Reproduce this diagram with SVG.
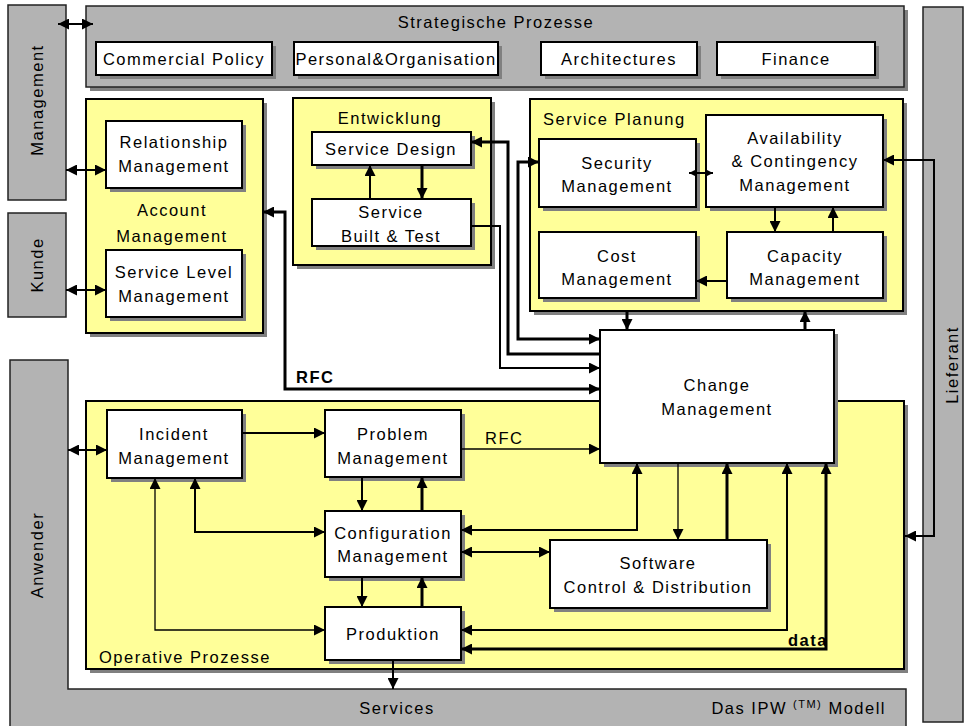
<svg xmlns="http://www.w3.org/2000/svg" width="971" height="726" viewBox="0 0 971 726">
<style>
.g{fill:#b3b3b3;stroke:#222;stroke-width:1.5}
.y{fill:#ffff99;stroke:#000;stroke-width:2}
.w{fill:#fff;stroke:#000;stroke-width:2}
.s{fill:#808080}
text{font-family:"Liberation Sans",Arial,sans-serif;font-size:16.5px;fill:#000;letter-spacing:1.5px}
.c{text-anchor:middle}
.k{fill:none;stroke:#000;stroke-width:3}
.m{fill:none;stroke:#000;stroke-width:2}
.t{fill:none;stroke:#000;stroke-width:1.3}
</style>
<defs>
<marker id="a" viewBox="0 0 10 10" refX="10" refY="5" markerWidth="11" markerHeight="11" markerUnits="userSpaceOnUse" orient="auto-start-reverse"><path d="M0,0 L10,5 L0,10 z" fill="#000"/></marker>
<marker id="b" viewBox="0 0 10 10" refX="10" refY="5" markerWidth="8" markerHeight="8" markerUnits="userSpaceOnUse" orient="auto-start-reverse"><path d="M0,0 L10,5 L0,10 z" fill="#000"/></marker>
</defs>
<rect width="971" height="726" fill="#fff"/>

<g id="management"><rect class="g" x="8" y="5" width="58" height="195"/><text class="c" transform="translate(43,100) rotate(-90)">Management</text></g>
<g id="kunde"><rect class="g" x="8" y="213" width="58" height="104"/><text class="c" transform="translate(43,265) rotate(-90)">Kunde</text></g>
<g id="anwender"><path class="g" d="M10,360 H68 V689 H906 V730 H10 Z"/><text class="c" transform="translate(43,555) rotate(-90)">Anwender</text><text class="c" x="397" y="714">Services</text><text x="886" y="714" text-anchor="end" letter-spacing="0.8">Das IPW <tspan font-size="11" dy="-6">(TM)</tspan><tspan dy="6"> Modell</tspan></text></g>
<g id="lieferant"><rect class="g" x="923" y="7" width="40" height="715"/><text class="c" transform="translate(958,365) rotate(-90)">Lieferant</text></g>

<g id="strategische"><rect class="s" x="90" y="10" width="818" height="81"/><rect class="g" x="86" y="6" width="818" height="81" stroke="#000"/><text class="c" x="496" y="28">Strategische Prozesse</text>
<rect class="s" x="100" y="46" width="176" height="33"/><rect class="w" x="96" y="42" width="176" height="33"/><text class="c" x="184" y="65">Commercial Policy</text>
<rect class="s" x="298" y="46" width="204" height="33"/><rect class="w" x="294" y="42" width="204" height="33"/><text class="c" x="396" y="65" letter-spacing="0.7">Personal&amp;Organisation</text>
<rect class="s" x="545" y="46" width="156" height="33"/><rect class="w" x="541" y="42" width="156" height="33"/><text class="c" x="619" y="65">Architectures</text>
<rect class="s" x="721" y="46" width="158" height="33"/><rect class="w" x="717" y="42" width="158" height="33"/><text class="c" x="796" y="65">Finance</text></g>

<g id="account"><rect class="s" x="90" y="103" width="177" height="234"/><rect class="y" x="86" y="99" width="177" height="234"/><text class="c" x="172" y="216" font-size="18" letter-spacing="1.2">Account</text><text class="c" x="172" y="242" font-size="18" letter-spacing="1.2">Management</text>
<rect class="s" x="110" y="125" width="136" height="67"/><rect class="w" x="106" y="121" width="136" height="67"/><text class="c" x="174" y="148">Relationship</text><text class="c" x="174" y="172">Management</text>
<rect class="s" x="110" y="254" width="136" height="67"/><rect class="w" x="106" y="250" width="136" height="67"/><text class="c" x="174" y="278">Service Level</text><text class="c" x="174" y="302">Management</text></g>

<g id="entwicklung"><rect class="s" x="297" y="102" width="198" height="167"/><rect class="y" x="293" y="98" width="198" height="167"/><text class="c" x="390" y="124">Entwicklung</text>
<rect class="s" x="316" y="136" width="159" height="33"/><rect class="w" x="312" y="132" width="159" height="33"/><text class="c" x="391" y="155">Service Design</text>
<rect class="s" x="316" y="203" width="159" height="47"/><rect class="w" x="312" y="199" width="159" height="47"/><text class="c" x="391" y="218">Service</text><text class="c" x="391" y="242" font-size="18" letter-spacing="1">Built &amp; Test</text></g>

<g id="planung"><rect class="s" x="534" y="103" width="373" height="212"/><rect class="y" x="530" y="99" width="373" height="212"/><text x="543" y="125">Service Planung</text>
<rect class="s" x="543" y="143" width="157" height="68"/><rect class="w" x="539" y="139" width="157" height="68"/><text class="c" x="617" y="169">Security</text><text class="c" x="617" y="192">Management</text>
<rect class="s" x="710" y="119" width="177" height="92"/><rect class="w" x="706" y="115" width="177" height="92"/><text class="c" x="795" y="144">Availability</text><text class="c" x="795" y="167">&amp; Contingency</text><text class="c" x="795" y="191">Management</text>
<rect class="s" x="543" y="236" width="157" height="66"/><rect class="w" x="539" y="232" width="157" height="66"/><text class="c" x="617" y="262">Cost</text><text class="c" x="617" y="285">Management</text>
<rect class="s" x="731" y="236" width="156" height="66"/><rect class="w" x="727" y="232" width="156" height="66"/><text class="c" x="805" y="262">Capacity</text><text class="c" x="805" y="285">Management</text></g>

<g id="operative"><rect class="s" x="90" y="405" width="818" height="268"/><rect class="y" x="86" y="401" width="818" height="268"/><text x="99" y="663">Operative Prozesse</text>
<rect class="s" x="111" y="414" width="135" height="68"/><rect class="w" x="107" y="410" width="135" height="68"/><text class="c" x="174" y="440">Incident</text><text class="c" x="174" y="464">Management</text>
<rect class="s" x="329" y="414" width="136" height="67"/><rect class="w" x="325" y="410" width="136" height="67"/><text class="c" x="393" y="440">Problem</text><text class="c" x="393" y="464">Management</text>
<rect class="s" x="329" y="515" width="136" height="66"/><rect class="w" x="325" y="511" width="136" height="66"/><text class="c" x="393" y="539" letter-spacing="1.1">Configuration</text><text class="c" x="393" y="562">Management</text>
<rect class="s" x="554" y="544" width="217" height="68"/><rect class="w" x="550" y="540" width="217" height="68"/><text class="c" x="658" y="569">Software</text><text class="c" x="658" y="593">Control &amp; Distribution</text>
<rect class="s" x="329" y="611" width="136" height="53"/><rect class="w" x="325" y="607" width="136" height="53"/><text class="c" x="393" y="640">Produktion</text></g>

<g id="change"><rect class="s" x="604" y="334" width="234" height="133"/><rect class="w" x="600" y="330" width="234" height="133"/><text class="c" x="717" y="391">Change</text><text class="c" x="717" y="415">Management</text></g>

<g id="connectors">
<path class="m" d="M58,24 H93" marker-start="url(#a)" marker-end="url(#a)"/>
<path class="m" d="M66,170 H106" marker-start="url(#a)" marker-end="url(#a)"/>
<path class="m" d="M66,290 H106" marker-start="url(#a)" marker-end="url(#a)"/>
<path class="k" d="M600,389 H285 V212 H263" marker-start="url(#a)" marker-end="url(#a)"/>
<path class="k" d="M600,339 H518 V162 H539" marker-start="url(#a)" marker-end="url(#a)"/>
<path class="k" d="M600,354 H508 V142 H471" marker-end="url(#a)"/>
<path class="m" d="M471,226 H500 V368 H600" marker-end="url(#a)"/>
<path class="m" d="M370,199 V165" marker-end="url(#a)"/>
<path class="k" d="M422,165 V199" marker-end="url(#a)"/>
<path class="m" d="M689,173 H713" marker-start="url(#b)" marker-end="url(#b)"/>
<path class="m" d="M775,207 V232" marker-end="url(#a)"/>
<path class="m" d="M833,232 V207" marker-end="url(#a)"/>
<path class="m" d="M727,281 H696" marker-end="url(#a)"/>
<path class="k" d="M627,311 V330" marker-end="url(#a)"/>
<path class="k" d="M805,330 V311" marker-end="url(#a)"/>
<path class="m" d="M905,536 H934 V160 H883" marker-start="url(#a)" marker-end="url(#a)"/>
<path class="m" d="M68,450 H107" marker-start="url(#a)" marker-end="url(#a)"/>
<path class="m" d="M242,433 H325" marker-end="url(#a)"/>
<path class="t" d="M461,449 H600" marker-end="url(#a)"/>
<path class="m" d="M362,477 V511" marker-end="url(#a)"/>
<path class="k" d="M422,511 V477" marker-end="url(#a)"/>
<path class="m" d="M195,478 V532 H325" marker-start="url(#a)" marker-end="url(#a)"/>
<path class="t" d="M155,478 V630 H325" marker-start="url(#a)" marker-end="url(#a)"/>
<path class="m" d="M362,577 V607" marker-end="url(#a)"/>
<path class="k" d="M422,607 V577" marker-end="url(#a)"/>
<path class="m" d="M461,530 H637 V463" marker-start="url(#a)" marker-end="url(#a)"/>
<path class="m" d="M461,552 H550" marker-start="url(#a)" marker-end="url(#a)"/>
<path class="t" d="M678,463 V540" marker-end="url(#a)"/>
<path class="k" d="M727,540 V463" marker-end="url(#a)"/>
<path class="m" d="M787,463 V630 H461" marker-start="url(#a)" marker-end="url(#a)"/>
<path class="k" d="M826,463 V649 H461" marker-start="url(#a)" marker-end="url(#a)"/>
<path class="m" d="M393,660 V689" marker-end="url(#a)"/>
<text x="296" y="383" font-weight="bold" letter-spacing="-1">RFC</text>
<text x="485" y="444">RFC</text>
<text x="788" y="646" font-size="11" font-weight="bold" letter-spacing="0">data</text>
</g>
</svg>
